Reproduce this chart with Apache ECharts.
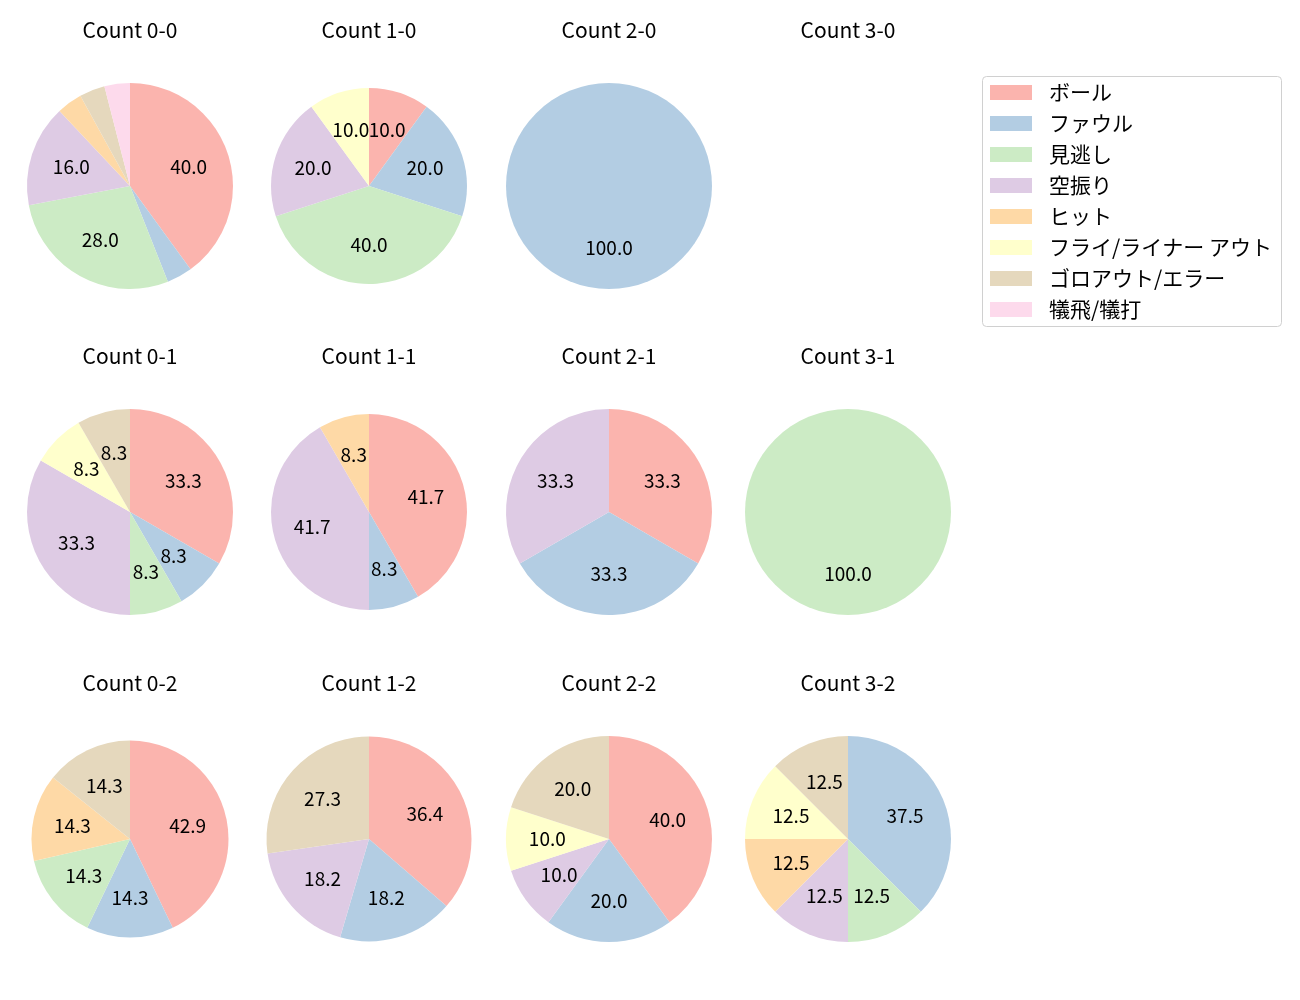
<!DOCTYPE html>
<html><head><meta charset="utf-8">
<script src="https://cdn.jsdelivr.net/npm/echarts@6/dist/echarts.min.js"></script>
<style>html,body{margin:0;padding:0;background:#fff}#c{width:1300px;height:1000px}</style>
</head><body><div id="c"></div>
<script>
const categories = ['ボール','ファウル','見逃し','空振り','ヒット','フライ/ライナー アウト','ゴロアウト/エラー','犠飛/犠打'];
const colors = ['#fbb4ae','#b3cde3','#ccebc5','#decbe4','#fed9a6','#ffffcc','#e5d8bd','#fddaec'];
const titles = ['Count 0-0','Count 1-0','Count 2-0','Count 3-0','Count 0-1','Count 1-1','Count 2-1','Count 3-1','Count 0-2','Count 1-2','Count 2-2','Count 3-2'];
const count00 = [10,1,7,4,1,0,1,1];
const count10 = [1,2,4,2,0,1,0,0];
const count20 = [0,1,0,0,0,0,0,0];
const count30 = [0,0,0,0,0,0,0,0];
const count01 = [4,1,1,4,0,1,1,0];
const count11 = [5,1,0,5,1,0,0,0];
const count21 = [1,1,0,1,0,0,0,0];
const count31 = [0,0,1,0,0,0,0,0];
const count02 = [3,1,1,0,1,0,1,0];
const count12 = [4,2,0,2,0,0,3,0];
const count22 = [4,2,0,1,0,1,2,0];
const count32 = [0,3,1,1,1,1,1,0];
const allCounts = [count00,count10,count20,count30,count01,count11,count21,count31,count02,count12,count22,count32];

// layout
const colX = [130,369,609,848];
const rowY = [186,512,839];
const titleY = [30,356.5,683];
const radii = [103,98,103,0, 103,98,103,103, 98.5,102.5,103,103];

const chart = echarts.init(document.getElementById('c'), null, {renderer:'canvas'});
const series = [];
const title = [];
const FONT = '"Noto Sans CJK JP", "Noto Sans", sans-serif';
const TFS = 21;
allCounts.forEach((vals, i) => {
  const col = i % 4, row = Math.floor(i / 4);
  title.push({text: titles[i], left: colX[col], top: titleY[row] - TFS/2, textAlign: 'center', padding: 0,
    textStyle: {fontFamily: FONT, fontSize: TFS, fontWeight: 'normal', color: '#000'}});
  const total = vals.reduce((a,b)=>a+b,0);
  if (total === 0) return;
  const r = radii[i];
  const data = vals.map((v,k)=>({name: categories[k], value: v, itemStyle:{color: colors[k]}}));
  series.push({type:'pie', center:[colX[col], rowY[row]], radius:[0, r], startAngle:90, clockwise:true,
    silent:true, animation:false, label:{show:false}, labelLine:{show:false}, data: data,
    itemStyle:{borderWidth:0}});
  series.push({type:'pie', center:[colX[col], rowY[row]], radius:[r*0.14, r], startAngle:90, clockwise:true,
    silent:true, animation:false, labelLine:{show:false}, avoidLabelOverlap:false,
    labelLayout:{hideOverlap:false},
    itemStyle:{color:'rgba(0,0,0,0)', borderWidth:0},
    label:{show:true, position:'inside', fontFamily: FONT, fontSize:19, color:'#000',
      formatter: p => { const pct = p.value/total*100; return pct >= 5 ? pct.toFixed(1) : ''; }},
    data: vals.map((v,k)=>({name: categories[k] + ' ', value: v}))});
});

chart.setOption({
  animation:false,
  title: title,
  legend: {orient:'vertical', left: 990, top: 82, padding: 0, itemWidth: 42, itemHeight: 15, itemGap: 10,
    icon:'rect', selectedMode:false,
    textStyle:{fontFamily: FONT, fontSize: 21, color:'#000', lineHeight: 21, padding:[0,0,0,12]},
    data: categories.map((c,k)=>({name:c, itemStyle:{color: colors[k]}}))},
  graphic: [{type:'rect', shape:{x:982.5, y:76.5, width:299, height:250, r:4},
    style:{fill:'rgba(255,255,255,0.8)', stroke:'#d0d0d0', lineWidth:1}, z:-1}],
  series: series
});
</script></body></html>
